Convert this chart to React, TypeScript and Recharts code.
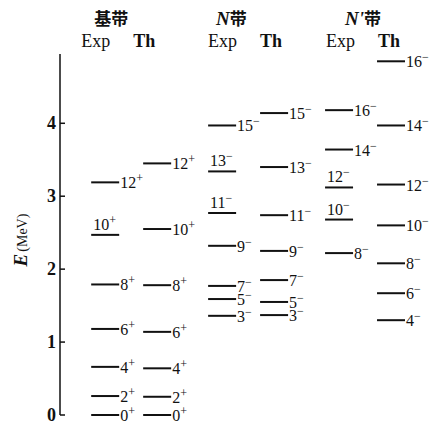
import { Scatter, ScatterChart, XAxis, YAxis } from "recharts";

// level energies in MeV
const gsSpins = [0, 2, 4, 6, 8, 10, 12];
const gsExp = [0, 0.26, 0.66, 1.18, 1.79, 2.47, 3.19];
const gsTh = [0, 0.25, 0.64, 1.14, 1.78, 2.55, 3.45];

const nSpins = [3, 5, 7, 9, 11, 13, 15];
const nExp = [1.36, 1.59, 1.77, 2.32, 2.77, 3.34, 3.97];
const nTh = [1.37, 1.55, 1.85, 2.25, 2.74, 3.4, 4.14];

const npExpSpins = [8, 10, 12, 14, 16];
const npExp = [2.22, 2.68, 3.12, 3.64, 4.18];
const npThSpins = [4, 6, 8, 10, 12, 14, 16];
const npTh = [1.3, 1.67, 2.08, 2.6, 3.16, 3.97, 4.85];

const bandNames = ["基带", "N带", "N'带"];
const columnNames = ["Exp", "Th", "Exp", "Th", "Exp", "Th"];
const energyTicks = [0, 1, 2, 3, 4];

// labels printed above the level line instead of beside it
const gsExpAbove = [10];
const nExpAbove = [11, 13];
const npExpAbove = [10, 12];

const columns = [
  { spins: gsSpins, energies: gsExp, parity: "+", above: gsExpAbove },
  { spins: gsSpins, energies: gsTh, parity: "+", above: [] as number[] },
  { spins: nSpins, energies: nExp, parity: "−", above: nExpAbove },
  { spins: nSpins, energies: nTh, parity: "−", above: [] as number[] },
  { spins: npExpSpins, energies: npExp, parity: "−", above: npExpAbove },
  { spins: npThSpins, energies: npTh, parity: "−", above: [] as number[] },
];

const columnX = [0, 1, 2.25, 3.25, 4.5, 5.5];

const series = columns.map((col, i) =>
  col.spins.map((spin, j) => ({
    x: columnX[i],
    y: col.energies[j],
    spin,
    parity: col.parity,
    above: col.above.includes(spin),
  }))
);

const FONT = "Liberation Serif, Times New Roman, serif";
const CJK = "Noto Sans CJK SC, sans-serif";
const INK = "#111";

function Level(props: any) {
  const { cx, cy, payload } = props;
  if (cx == null || cy == null) return null;
  const len = 28;
  const label = (
    <>
      {payload.spin}
      <tspan dy={-6} fontSize={12}>{payload.parity}</tspan>
    </>
  );
  return (
    <g>
      <line x1={cx} x2={cx + len} y1={cy} y2={cy} stroke={INK} strokeWidth={2} />
      {payload.above ? (
        <text x={cx + 2} y={cy - 5} fontFamily={FONT} fontSize={16} fill={INK}>
          {label}
        </text>
      ) : (
        <text x={cx + len + 1} y={cy + 6} fontFamily={FONT} fontSize={16} fill={INK}>
          {label}
        </text>
      )}
    </g>
  );
}

const HEADER_DX = [-10, 0, 1];
const TITLE_DX = [3, 8, 20];

function HeaderTick(props: any) {
  const { x, y, index } = props;
  const band = Math.floor(index / 2);
  const isExp = index % 2 === 0;
  const name = bandNames[band];
  return (
    <g>
      <text
        x={x + HEADER_DX[band]}
        y={y - 7}
        fontFamily={FONT}
        fontSize={18}
        fontWeight={isExp ? "normal" : "bold"}
        fill={INK}
      >
        {columnNames[index]}
      </text>
      {isExp && (
        <text x={x + TITLE_DX[band]} y={y - 29} fontSize={17} fill={INK} fontWeight="bold">
          {name.startsWith("N") ? (
            <>
              <tspan fontFamily={FONT} fontStyle="italic" fontSize={19}>
                {name.slice(0, name.length - 1)}
              </tspan>
              <tspan fontFamily={CJK}>{name.slice(-1)}</tspan>
            </>
          ) : (
            <tspan fontFamily={CJK}>{name}</tspan>
          )}
        </text>
      )}
    </g>
  );
}

function EnergyTick(props: any) {
  const { x, y, payload } = props;
  return (
    <g>
      <line x1={x} x2={x + 5} y1={y} y2={y} stroke={INK} strokeWidth={1.5} />
      <text x={x - 4} y={y + 6} textAnchor="end" fontFamily={FONT} fontSize={18} fontWeight="bold" fill={INK}>
        {payload.value}
      </text>
    </g>
  );
}

function EnergyLabel() {
  return (
    <text transform="rotate(-90, 27, 240)" x={27} y={240} textAnchor="middle" fill={INK} fontFamily={FONT}>
      <tspan fontSize={19} fontWeight="bold" fontStyle="italic">E</tspan>
      <tspan fontSize={14} dx={2}>(MeV)</tspan>
    </text>
  );
}

export default function App() {
  return (
    <div style={{ position: "absolute", left: 0, top: 0, background: "#fff" }}>
      <ScatterChart width={433} height={424} margin={{ top: 0, right: 4, bottom: 9, left: 0 }}>
        <XAxis
          type="number"
          dataKey="x"
          orientation="top"
          domain={[-0.6, 6.5]}
          ticks={columnX}
          interval={0}
          height={54}
          axisLine={false}
          tickLine={false}
          tickSize={0}
          tickMargin={0}
          tick={(p: any) => <HeaderTick {...p} />}
        />
        <YAxis
          type="number"
          dataKey="y"
          domain={[0, 4.95]}
          ticks={energyTicks}
          interval={0}
          width={60}
          axisLine={{ stroke: INK, strokeWidth: 1.5 }}
          tickLine={false}
          tickSize={0}
          tickMargin={0}
          tick={(p: any) => <EnergyTick {...p} />}
          label={{ content: () => <EnergyLabel /> }}
        />
        {series.map((data, i) => (
          <Scatter key={i} data={data} isAnimationActive={false} shape={(p: any) => <Level {...p} />} />
        ))}
      </ScatterChart>
    </div>
  );
}
